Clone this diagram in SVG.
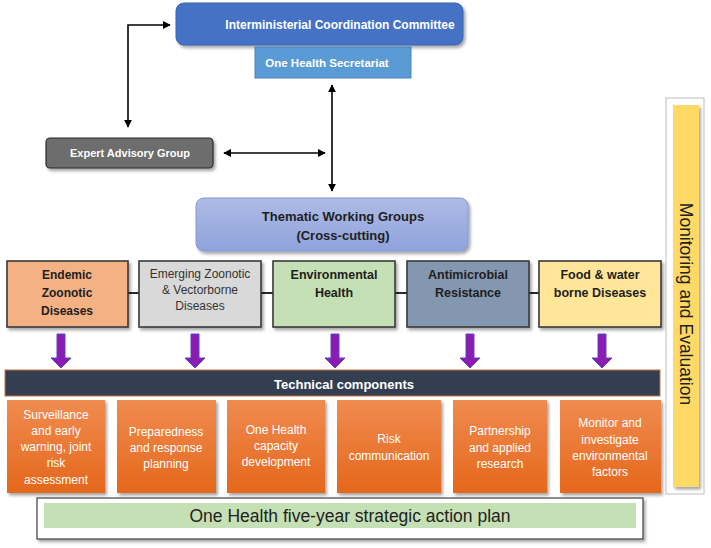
<svg xmlns="http://www.w3.org/2000/svg" width="711" height="548" viewBox="0 0 711 548">
<defs>
<style>
text{font-family:"Liberation Sans",Arial,sans-serif;}
.w{fill:#ffffff;font-weight:bold;}
.row{stroke:#3a3a3a;stroke-width:1.6;}
.dk{fill:#1e1e1e;}
.or{fill:url(#og);}
.ot{fill:#ffffff;font-size:12px;text-anchor:middle;}
.ln{fill:none;stroke:#000;stroke-width:1.6;}
.pa{fill:#8c1bb3;stroke:#5546c4;stroke-width:1;}
</style>
<linearGradient id="og" x1="0" y1="0" x2="0" y2="1">
<stop offset="0" stop-color="#f08b50"/>
<stop offset="1" stop-color="#e5671b"/>
</linearGradient>
<linearGradient id="tg" x1="0" y1="0" x2="0" y2="1">
<stop offset="0" stop-color="#aebbe5"/>
<stop offset="1" stop-color="#8fa2dc"/>
</linearGradient>
<filter id="sh" x="-10%" y="-10%" width="130%" height="140%">
<feDropShadow dx="2" dy="2.5" stdDeviation="1.5" flood-color="#000" flood-opacity="0.35"/>
</filter>
<marker id="ah" viewBox="0 0 10 10" refX="9" refY="5" markerWidth="5" markerHeight="5" orient="auto-start-reverse">
<path d="M0,0 L10,5 L0,10 z" fill="#000"/>
</marker>
</defs>
<rect width="711" height="548" fill="#ffffff"/>

<g id="connectors">
<path class="ln" d="M170 25 H128 V127" marker-start="url(#ah)" marker-end="url(#ah)"/>
<path class="ln" d="M224 153 H325" marker-start="url(#ah)" marker-end="url(#ah)"/>
<path class="ln" d="M332 85 V191" marker-start="url(#ah)" marker-end="url(#ah)"/>
<path fill="none" stroke="#2a2a2a" stroke-width="1.8" d="M128 293 H139 M261 293 H273 M395 293 H407 M529 293 H539"/>
<g id="purple-arrows">
<path class="pa" d="M57 334 h8 v24 h6 l-10 10 l-10 -10 h6 z"/>
<path class="pa" d="M191 334 h8 v24 h6 l-10 10 l-10 -10 h6 z"/>
<path class="pa" d="M331 334 h8 v24 h6 l-10 10 l-10 -10 h6 z"/>
<path class="pa" d="M466 334 h8 v24 h6 l-10 10 l-10 -10 h6 z"/>
<path class="pa" d="M598 334 h8 v24 h6 l-10 10 l-10 -10 h6 z"/>
</g>
</g>

<g id="interministerial">
<rect x="176" y="3" width="287" height="42" rx="8" fill="#4472c4" stroke="#3a63ad" stroke-width="1" filter="url(#sh)"/>
<text class="w" x="340" y="29" font-size="12" text-anchor="middle">Interministerial Coordination Committee</text>
</g>
<g id="secretariat">
<rect x="255" y="47" width="156" height="31" fill="#5b9bd5" stroke="#4a82b8" stroke-width="1"/>
<text class="w" x="327" y="67" font-size="11.5" text-anchor="middle">One Health Secretariat</text>
</g>
<g id="expert">
<rect x="46" y="138" width="167" height="30" rx="4" fill="#6d6d6d" stroke="#2b2b2b" stroke-width="1.2" filter="url(#sh)"/>
<text class="w" x="130" y="157" font-size="11" text-anchor="middle">Expert Advisory Group</text>
</g>
<g id="thematic">
<rect x="196" y="198" width="272" height="53" rx="8" fill="url(#tg)" stroke="#8399d8" stroke-width="1" filter="url(#sh)"/>
<text class="dk" x="343" y="221" font-size="13" text-anchor="middle" font-weight="bold">Thematic Working Groups</text>
<text class="dk" x="343" y="240" font-size="13" text-anchor="middle" font-weight="bold">(Cross-cutting)</text>
</g>

<g id="endemic">
<rect class="row" x="7" y="261" width="121" height="66" fill="#f4b183" filter="url(#sh)"/>
<text class="dk" font-size="12" font-weight="bold" text-anchor="middle"><tspan x="67" y="279">Endemic</tspan><tspan x="67" y="297">Zoonotic</tspan><tspan x="67" y="315">Diseases</tspan></text>
</g>
<g id="emerging">
<rect class="row" x="139" y="261" width="122" height="66" fill="#d9d9d9" filter="url(#sh)"/>
<text fill="#333" font-size="12" text-anchor="middle"><tspan x="200" y="278">Emerging Zoonotic</tspan><tspan x="200" y="294">&amp; Vectorborne</tspan><tspan x="200" y="310">Diseases</tspan></text>
</g>
<g id="environmental">
<rect class="row" x="273" y="261" width="122" height="66" fill="#c5e0b4" filter="url(#sh)"/>
<text class="dk" font-size="12.5" font-weight="bold" text-anchor="middle"><tspan x="334" y="279">Environmental</tspan><tspan x="334" y="297">Health</tspan></text>
</g>
<g id="antimicrobial">
<rect class="row" x="407" y="261" width="122" height="66" fill="#8497b0" filter="url(#sh)"/>
<text class="dk" font-size="12.5" font-weight="bold" text-anchor="middle"><tspan x="468" y="279">Antimicrobial</tspan><tspan x="468" y="297">Resistance</tspan></text>
</g>
<g id="foodwater">
<rect class="row" x="539" y="261" width="122" height="66" fill="#ffe699" filter="url(#sh)"/>
<text class="dk" font-size="12.5" font-weight="bold" text-anchor="middle"><tspan x="600" y="279">Food &amp; water</tspan><tspan x="600" y="297">borne Diseases</tspan></text>
</g>

<g id="technical">
<rect x="5" y="370" width="655" height="26" fill="#333f50" stroke="#c8723a" stroke-width="1"/>
<text class="w" x="344" y="389" font-size="13" text-anchor="middle">Technical components</text>
</g>

<g id="surveillance">
<rect class="or" x="7" y="400" width="98" height="93" filter="url(#sh)"/>
<text class="ot"><tspan x="56" y="419">Surveillance</tspan><tspan x="56" y="435">and early</tspan><tspan x="56" y="451">warning, joint</tspan><tspan x="56" y="467">risk</tspan><tspan x="56" y="484">assessment</tspan></text>
</g>
<g id="preparedness">
<rect class="or" x="117" y="400" width="99" height="93" filter="url(#sh)"/>
<text class="ot"><tspan x="166" y="436">Preparedness</tspan><tspan x="166" y="452">and response</tspan><tspan x="166" y="468">planning</tspan></text>
</g>
<g id="capacity">
<rect class="or" x="227" y="400" width="98" height="93" filter="url(#sh)"/>
<text class="ot"><tspan x="276" y="434">One Health</tspan><tspan x="276" y="450">capacity</tspan><tspan x="276" y="466">development</tspan></text>
</g>
<g id="risk">
<rect class="or" x="337" y="400" width="104" height="93" filter="url(#sh)"/>
<text class="ot"><tspan x="389" y="443">Risk</tspan><tspan x="389" y="460">communication</tspan></text>
</g>
<g id="partnership">
<rect class="or" x="453" y="400" width="94" height="93" filter="url(#sh)"/>
<text class="ot"><tspan x="500" y="435">Partnership</tspan><tspan x="500" y="452">and applied</tspan><tspan x="500" y="468">research</tspan></text>
</g>
<g id="monitor-env">
<rect class="or" x="560" y="400" width="101" height="93" filter="url(#sh)"/>
<text class="ot"><tspan x="610" y="427">Monitor and</tspan><tspan x="610" y="444">investigate</tspan><tspan x="610" y="460">environmental</tspan><tspan x="610" y="476">factors</tspan></text>
</g>

<g id="action-plan">
<rect x="37" y="498" width="606" height="41" fill="#ffffff" stroke="#404040" stroke-width="1.2" filter="url(#sh)"/>
<rect x="44" y="503" width="592" height="25" fill="#c5e0b4"/>
<text x="350" y="522" font-size="17.5" fill="#222" text-anchor="middle">One Health five-year strategic action plan</text>
</g>

<g id="monitoring">
<rect x="666" y="98" width="38" height="396" fill="#ffffff" stroke="#bdbdbd" stroke-width="1"/>
<rect x="673" y="105" width="26" height="382" fill="#ffd966" filter="url(#sh)"/>
<text transform="translate(686,304) rotate(90)" x="0" y="6" font-size="17.5" fill="#222" text-anchor="middle">Monitoring and Evaluation</text>
</g>
</svg>
